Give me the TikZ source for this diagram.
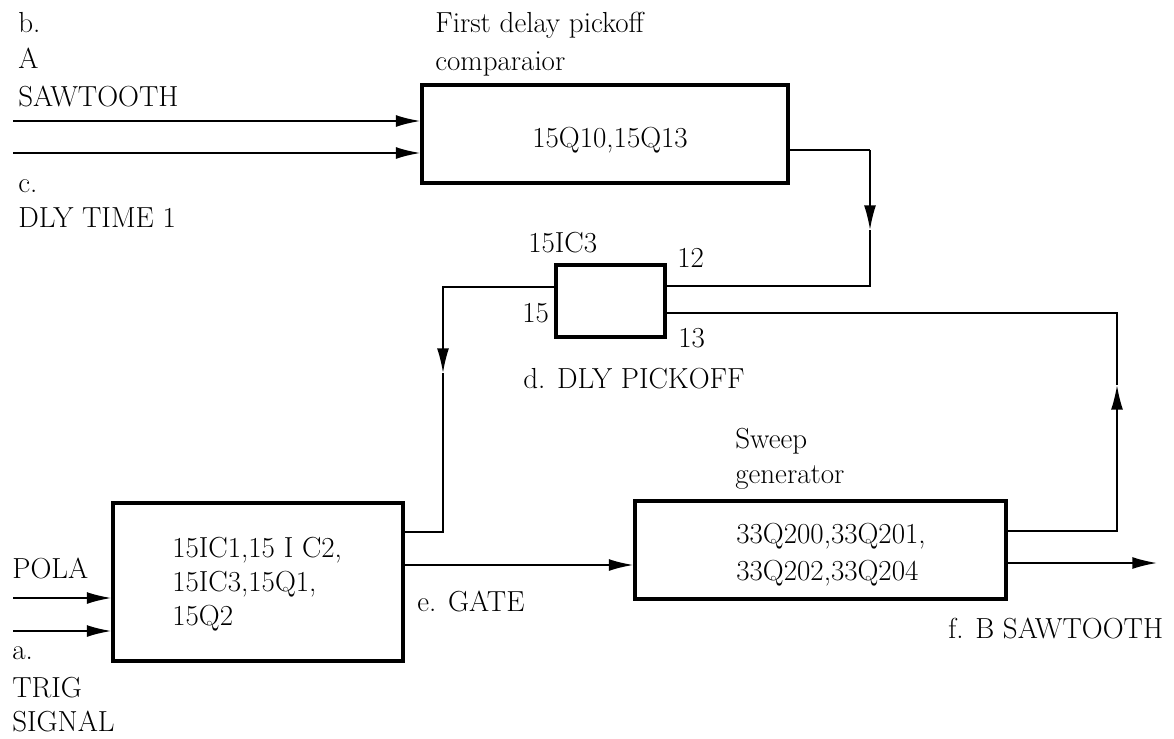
\documentclass[tikz,border=0pt]{standalone}
\usepackage{fontspec}
\usetikzlibrary{arrows.meta}

\tikzset{
  blk/.style={draw, line width=1.9pt, inner sep=0pt},
  wire/.style={line width=1pt},
  lbl/.style={anchor=base west, inner sep=0pt, font=\fontsize{16.5}{20}\selectfont},
  >={Latex[length=14pt,width=6.8pt]}
}

\begin{document}
\begin{tikzpicture}
  [x=0.02cm, y=-0.02cm]
  \useasboundingbox (0,0) rectangle (1174,738);

  % blocks
  \node[blk, minimum width=7.32cm, minimum height=1.96cm] (cmp) at (605,134) {};
  \node[blk, minimum width=2.18cm, minimum height=1.44cm] (dly) at (610.5,301) {};
  \node[blk, minimum width=5.8cm, minimum height=3.16cm] (trig) at (258,582) {};
  \node[blk, minimum width=7.42cm, minimum height=1.96cm] (sweep) at (820.5,550) {};

  % texts
  \node[lbl] (tb) at (18,32) {b.};
  \node[lbl] (ta) at (18,68) {A};
  \node[lbl] (tsaw) at (18,106) {SAWTOOTH};
  \node[lbl] (tc) at (18,192) {c.};
  \node[lbl] (tdly) at (18,227) {DLY TIME 1};
  \node[lbl] (tcmp1) at (435,32) {First delay pickoff};
  \node[lbl] (tcmp2) at (435,70) {comparaior};
  \node[lbl] (tcmpq) at (532,147) {15Q10,15Q13};
  \node[lbl] (tic) at (528,252) {15IC3};
  \node[lbl] (p12) at (677,267) {12};
  \node[lbl] (p15) at (522,322) {15};
  \node[lbl] (p13) at (678,347) {13};
  \node[lbl] (tpick) at (523,388) {d. DLY PICKOFF};
  \node[lbl] (tpola) at (12,578) {POLA};
  \node[lbl] (ta2) at (12,659) {a.};
  \node[lbl] (ttrig) at (12,697) {TRIG};
  \node[lbl] (tsig) at (12,731) {SIGNAL};
  \node[lbl] (tq1) at (172,557) {15IC1,15 I C2,};
  \node[lbl] (tq2) at (172,591) {15IC3,15Q1,};
  \node[lbl] (tq3) at (172,625) {15Q2};
  \node[lbl] (tgate) at (417,611) {e. GATE};
  \node[lbl] (tsw1) at (735,448) {Sweep};
  \node[lbl] (tsw2) at (735,483) {generator};
  \node[lbl] (tsq1) at (736,543) {33Q200,33Q201,};
  \node[lbl] (tsq2) at (736,580) {33Q202,33Q204};
  \node[lbl] (tout) at (948,638) {f. B SAWTOOTH};

  % free ends and bends
  \coordinate (inA) at (13,121);
  \coordinate (inC) at (13,153);
  \coordinate (inP) at (13,598);
  \coordinate (inT) at (13,631);
  \coordinate (k1) at (870,150);
  \coordinate (k2) at (870,230);
  \coordinate (k3) at (870,286);
  \coordinate (l1) at (443,287);
  \coordinate (l2) at (443,373);
  \coordinate (l3) at (443,532);
  \coordinate (r1) at (1117,313);
  \coordinate (r2) at (1117,385);
  \coordinate (r3) at (1117,531);
  \coordinate (g1) at (403,565);
  \coordinate (outB) at (1157,563);

  % connectors
  \draw[wire,->] (inA) -- (inA -| cmp.west);
  \draw[wire,->] (inC) -- (inC -| cmp.west);
  \draw[wire,->] (inP) -- (inP -| trig.west);
  \draw[wire,->] (inT) -- (inT -| trig.west);

  \draw[wire] (k1 -| cmp.east) -- (k1);
  \draw[wire,->] (k1) -- (k2);
  \draw[wire] (k2) -- (k3) -- (k3 -| dly.east);

  \draw[wire,->] (l1 -| dly.west) -- (l1) -- (l2);
  \draw[wire] (l2) -- (l3) -- (l3 -| trig.east);

  \draw[wire,->] (g1 -| trig.east) -- (g1 -| sweep.west);

  \draw[wire,->] (r3 -| sweep.east) -- (r3) -- (r2);
  \draw[wire] (r2) -- (r1) -- (r1 -| dly.east);

  \draw[wire,->] (outB -| sweep.east) -- (outB);

\end{tikzpicture}
\end{document}
